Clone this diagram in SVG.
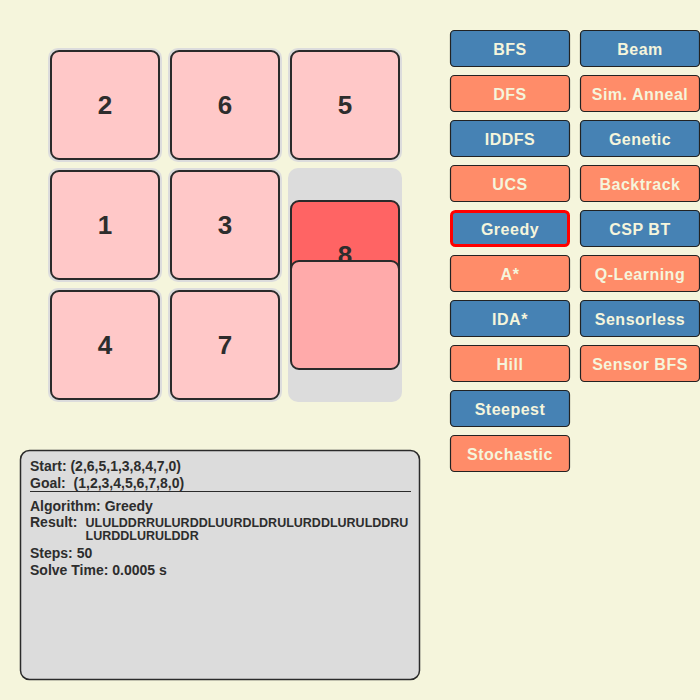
<svg xmlns="http://www.w3.org/2000/svg" width="700" height="700" viewBox="0 0 700 700">
<style>
.cell{fill:#dcdcdc}
.tile{stroke:#2a2a2a;stroke-width:2}
.t{fill:#ffc8c8}
.num{font-family:"Liberation Sans",Arial,sans-serif;font-weight:bold;font-size:26px;fill:#2d2d2d;text-anchor:middle}
.btn{stroke:#222;stroke-width:1.2}
.blue{fill:#4682b4}
.orange{fill:#ff8c69}
.bl{font-family:"Liberation Sans",Arial,sans-serif;font-weight:bold;font-size:16px;fill:#f5f5dc;text-anchor:middle;letter-spacing:0.5px}
.info{font-family:"Liberation Sans",Arial,sans-serif;font-weight:bold;font-size:14px;fill:#2d2d2d}
.res{font-family:"Liberation Sans",Arial,sans-serif;font-weight:bold;font-size:12.5px;fill:#2d2d2d}
</style>
<rect width="700" height="700" fill="#f5f5dc"/>
<g id="board">
<rect class="cell" x="48" y="48" width="114" height="114" rx="10"/>
<rect class="cell" x="168" y="48" width="114" height="114" rx="10"/>
<rect class="cell" x="288" y="48" width="114" height="114" rx="10"/>
<rect class="cell" x="48" y="168" width="114" height="114" rx="10"/>
<rect class="cell" x="168" y="168" width="114" height="114" rx="10"/>
<rect class="cell" x="48" y="288" width="114" height="114" rx="10"/>
<rect class="cell" x="168" y="288" width="114" height="114" rx="10"/>
<rect class="cell" x="288" y="168" width="114" height="234" rx="10"/>
</g>
<g id="tile-2"><rect class="tile t" x="51" y="51" width="108" height="108" rx="8"/><text class="num" x="105" y="114">2</text></g>
<g id="tile-6"><rect class="tile t" x="171" y="51" width="108" height="108" rx="8"/><text class="num" x="225" y="114">6</text></g>
<g id="tile-5"><rect class="tile t" x="291" y="51" width="108" height="108" rx="8"/><text class="num" x="345" y="114">5</text></g>
<g id="tile-1"><rect class="tile t" x="51" y="171" width="108" height="108" rx="8"/><text class="num" x="105" y="234">1</text></g>
<g id="tile-3"><rect class="tile t" x="171" y="171" width="108" height="108" rx="8"/><text class="num" x="225" y="234">3</text></g>
<g id="tile-4"><rect class="tile t" x="51" y="291" width="108" height="108" rx="8"/><text class="num" x="105" y="354">4</text></g>
<g id="tile-7"><rect class="tile t" x="171" y="291" width="108" height="108" rx="8"/><text class="num" x="225" y="354">7</text></g>
<g id="tile-8"><rect class="tile" fill="#ff6464" x="291" y="201" width="108" height="108" rx="8"/><text class="num" x="345" y="264">8</text></g>
<g id="tile-moving"><rect class="tile" fill="#ffaaaa" x="291" y="261" width="108" height="108" rx="8"/></g>
<g id="connectors"></g>
<g id="buttons">
<g id="btn-bfs"><rect class="btn blue" x="450.5" y="30.5" width="119" height="36" rx="4"/><text class="bl" x="510" y="55">BFS</text></g>
<g id="btn-dfs"><rect class="btn orange" x="450.5" y="75.5" width="119" height="36" rx="4"/><text class="bl" x="510" y="100">DFS</text></g>
<g id="btn-iddfs"><rect class="btn blue" x="450.5" y="120.5" width="119" height="36" rx="4"/><text class="bl" x="510" y="145">IDDFS</text></g>
<g id="btn-ucs"><rect class="btn orange" x="450.5" y="165.5" width="119" height="36" rx="4"/><text class="bl" x="510" y="190">UCS</text></g>
<g id="btn-greedy"><rect class="blue" stroke="#ff0000" stroke-width="3" x="451.5" y="211.5" width="117" height="34" rx="4"/><text class="bl" x="510" y="235">Greedy</text></g>
<g id="btn-astar"><rect class="btn orange" x="450.5" y="255.5" width="119" height="36" rx="4"/><text class="bl" x="510" y="280">A*</text></g>
<g id="btn-idastar"><rect class="btn blue" x="450.5" y="300.5" width="119" height="36" rx="4"/><text class="bl" x="510" y="325">IDA*</text></g>
<g id="btn-hill"><rect class="btn orange" x="450.5" y="345.5" width="119" height="36" rx="4"/><text class="bl" x="510" y="370">Hill</text></g>
<g id="btn-steepest"><rect class="btn blue" x="450.5" y="390.5" width="119" height="36" rx="4"/><text class="bl" x="510" y="415">Steepest</text></g>
<g id="btn-stochastic"><rect class="btn orange" x="450.5" y="435.5" width="119" height="36" rx="4"/><text class="bl" x="510" y="460">Stochastic</text></g>
<g id="btn-beam"><rect class="btn blue" x="580.5" y="30.5" width="119" height="36" rx="4"/><text class="bl" x="640" y="55">Beam</text></g>
<g id="btn-sa"><rect class="btn orange" x="580.5" y="75.5" width="119" height="36" rx="4"/><text class="bl" x="640" y="100">Sim. Anneal</text></g>
<g id="btn-genetic"><rect class="btn blue" x="580.5" y="120.5" width="119" height="36" rx="4"/><text class="bl" x="640" y="145">Genetic</text></g>
<g id="btn-backtrack"><rect class="btn orange" x="580.5" y="165.5" width="119" height="36" rx="4"/><text class="bl" x="640" y="190">Backtrack</text></g>
<g id="btn-cspbt"><rect class="btn blue" x="580.5" y="210.5" width="119" height="36" rx="4"/><text class="bl" x="640" y="235">CSP BT</text></g>
<g id="btn-qlearning"><rect class="btn orange" x="580.5" y="255.5" width="119" height="36" rx="4"/><text class="bl" x="640" y="280">Q-Learning</text></g>
<g id="btn-sensorless"><rect class="btn blue" x="580.5" y="300.5" width="119" height="36" rx="4"/><text class="bl" x="640" y="325">Sensorless</text></g>
<g id="btn-sensorbfs"><rect class="btn orange" x="580.5" y="345.5" width="119" height="36" rx="4"/><text class="bl" x="640" y="370">Sensor BFS</text></g>
</g>
<g id="info">
<rect x="20.5" y="450.5" width="399" height="229" rx="9" fill="#dcdcdc" stroke="#2a2a2a" stroke-width="1.5"/>
<text class="info" x="30" y="471">Start: (2,6,5,1,3,8,4,7,0)</text>
<text class="info" x="30" y="488" xml:space="preserve">Goal:  (1,2,3,4,5,6,7,8,0)</text>
<line x1="30" y1="491.5" x2="411" y2="491.5" stroke="#2a2a2a" stroke-width="1"/>
<text class="info" x="30" y="511">Algorithm: Greedy</text>
<text class="info" x="30" y="527">Result:</text>
<text class="res" x="85.5" y="527">ULULDDRRULURDDLUURDLDRULURDDLURULDDRU</text>
<text class="res" x="85.5" y="540">LURDDLURULDDR</text>
<text class="info" x="30" y="558">Steps: 50</text>
<text class="info" x="30" y="575">Solve Time: 0.0005 s</text>
</g>
</svg>
